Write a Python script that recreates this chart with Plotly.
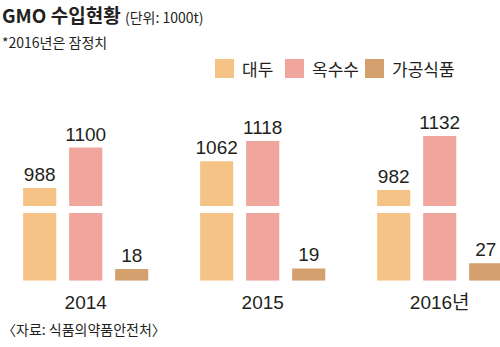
import plotly.graph_objects as go

# GMO import volumes (unit: 1000 t)
years = ["2014", "2015", "2016년"]
soybean = [988, 1062, 982]        # 대두
corn = [1100, 1118, 1132]         # 옥수수
processed = [18, 19, 27]          # 가공식품

series_names = ["대두", "옥수수", "가공식품"]
series_values = [soybean, corn, processed]
colors = ["#F6C386", "#F1A69D", "#D4A16E"]

NUM_FONT = "Liberation Sans Narrow, Liberation Sans, Noto Sans CJK KR, sans-serif"
KR_FONT = "Noto Sans CJK KR, sans-serif"
TXT = "#231f20"

W, H = 500, 347
xpos = list(range(len(years)))


def py(px):
    """pixel row -> paper y"""
    return 1 - px / H


fig = go.Figure()

# upper panel (broken axis, high values) and lower panel (low values)
for i, (name, vals, col) in enumerate(zip(series_names, series_values, colors)):
    show_top = i < 2
    fig.add_trace(go.Bar(
        x=xpos, y=vals, name=name, marker_color=col, marker_line_width=0,
        text=[str(v) for v in vals] if show_top else None,
        textposition="outside", cliponaxis=False, constraintext="none",
        textfont=dict(family=NUM_FONT, size=19, color=TXT),
        xaxis="x", yaxis="y2", showlegend=False, offsetgroup=str(i),
    ))
    fig.add_trace(go.Bar(
        x=xpos, y=vals, name=name, marker_color=col, marker_line_width=0,
        text=[str(v) for v in vals] if not show_top else None,
        textposition="outside", cliponaxis=False, constraintext="none",
        textfont=dict(family=NUM_FONT, size=19, color=TXT),
        xaxis="x", yaxis="y", showlegend=False, offsetgroup=str(i),
    ))

# x range so group centres land at the right pixel positions
px_per_group = 177.0
x0_px = 85.7
x_range = [-x0_px / px_per_group, (W - x0_px) / px_per_group]

top_bottom_px, top_scale = 206.0, 0.361
top_lo = 938.0
top_top_px = 110.0
top_hi = top_lo + (top_bottom_px - top_top_px) / top_scale

fig.update_layout(
    width=W, height=H,
    margin=dict(l=0, r=0, t=0, b=0),
    paper_bgcolor="white", plot_bgcolor="white",
    barmode="group", bargap=0.22, bargroupgap=0.28,
    xaxis=dict(
        domain=[0, 1], range=x_range, tickvals=xpos, ticktext=years,
        showgrid=False, zeroline=False, showline=False, ticks="",
        ticklabelstandoff=8,
        tickfont=dict(family=NUM_FONT, size=19, color=TXT),
        anchor="y",
    ),
    yaxis=dict(
        domain=[py(280.7), py(213)], range=[0, 105],
        visible=False, showgrid=False, zeroline=False,
    ),
    yaxis2=dict(
        domain=[py(top_bottom_px), py(top_top_px)], range=[top_lo, top_hi],
        visible=False, showgrid=False, zeroline=False, anchor="x",
    ),
)

annotations = [
    dict(x=0, y=py(-1), xref="paper", yref="paper", xanchor="left", yanchor="top",
         showarrow=False,
         text="<b>GMO 수입현황</b> <span style='font-size:14px'>(단위: 1000t)</span>",
         font=dict(family=KR_FONT, size=19, color=TXT)),
    dict(x=0, y=py(30), xref="paper", yref="paper", xanchor="left", yanchor="top",
         showarrow=False, text="*2016년은 잠정치",
         font=dict(family=KR_FONT, size=14, color=TXT)),
    dict(x=0, y=py(317), xref="paper", yref="paper", xanchor="left", yanchor="top",
         showarrow=False, text="〈자료: 식품의약품안전처〉",
         font=dict(family=KR_FONT, size=14, color=TXT)),
]

# legend: swatches and labels
shapes = []
legend_x = [215, 285, 365]
for lx, name, col in zip(legend_x, series_names, colors):
    shapes.append(dict(type="rect", xref="paper", yref="paper",
                       x0=lx / W, x1=(lx + 19) / W, y0=py(78), y1=py(59),
                       fillcolor=col, line_width=0))
    annotations.append(dict(x=(lx + 25) / W, y=py(68.5), xref="paper", yref="paper",
                            xanchor="left", yanchor="middle", showarrow=False,
                            text=name, font=dict(family=KR_FONT, size=17, color=TXT)))

fig.update_layout(annotations=annotations, shapes=shapes)

fig.write_html("out.html")
